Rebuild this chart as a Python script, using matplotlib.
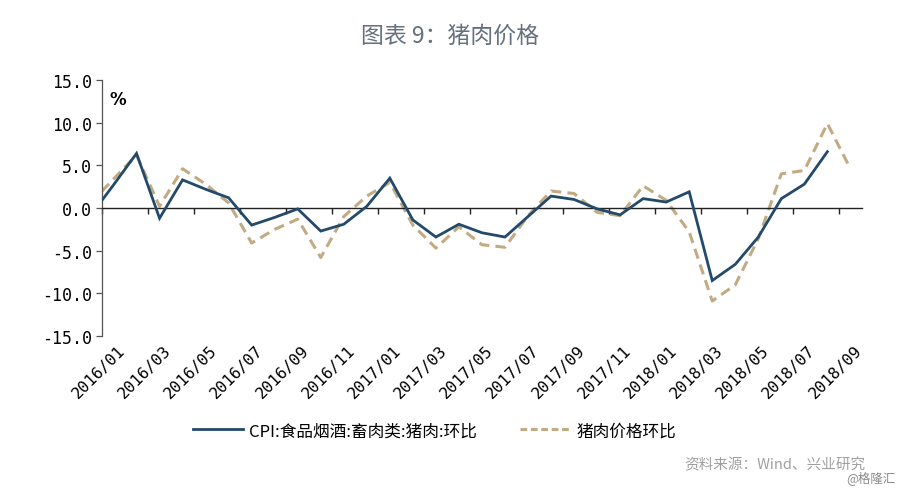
import numpy as np
import matplotlib
matplotlib.use('Agg')
import matplotlib.pyplot as plt
import matplotlib.transforms as mtransforms
from matplotlib.lines import Line2D

# monthly categories 2016/01 .. 2018/09
months = ['2016/01', '2016/02', '2016/03', '2016/04', '2016/05', '2016/06',
          '2016/07', '2016/08', '2016/09', '2016/10', '2016/11', '2016/12',
          '2017/01', '2017/02', '2017/03', '2017/04', '2017/05', '2017/06',
          '2017/07', '2017/08', '2017/09', '2017/10', '2017/11', '2017/12',
          '2018/01', '2018/02', '2018/03', '2018/04', '2018/05', '2018/06',
          '2018/07', '2018/08', '2018/09']

# CPI:食品烟酒:畜肉类:猪肉:环比 (%), no value yet for 2018/09
cpi_pork = [2.7, 6.4, -1.2, 3.3, 2.2, 1.2, -2.0, -1.1, -0.1, -2.7, -1.9, 0.2,
            3.5, -1.4, -3.4, -1.9, -2.9, -3.4, -1.0, 1.4, 1.0, -0.1, -0.8, 1.1,
            0.7, 1.9, -8.5, -6.6, -3.4, 1.1, 2.8, 6.6, np.nan]

# 猪肉价格环比 (%)
pork_price = [3.4, 6.2, 0.2, 4.6, 2.8, 0.6, -4.1, -2.5, -1.3, -5.8, -1.0, 1.4,
              3.0, -2.0, -4.7, -2.2, -4.3, -4.6, -0.9, 2.0, 1.7, -0.5, -0.9, 2.6,
              0.9, -2.8, -10.9, -9.0, -3.6, 4.0, 4.4, 9.9, 4.6]

# 2015/12 values, only the piece entering from the left edge is visible
prev_cpi = -0.9
prev_price = 0.55

blue = '#23496b'
tan = '#c2aa83'
cjk = ['Noto Sans CJK SC', 'DejaVu Sans']
num_font = 'DejaVu Sans Mono'

fig = plt.figure(figsize=(9, 4.89), dpi=100)
ax = fig.add_axes([0.1133, 0.3108, 0.8444, 0.5235])

x = np.arange(-1, len(months))
ax.plot(x, [prev_cpi] + cpi_pork, color=blue, lw=2.0, solid_joinstyle='miter', zorder=3)
ax.plot(x, [prev_price] + pork_price, color=tan, lw=2.2, dashes=(3.4, 2.0), zorder=2)

ax.set_xlim(-0.5, len(months) - 0.5)
ax.set_ylim(-15, 15)
yt = np.arange(-15, 15.1, 5)
ax.set_yticks(yt)
ax.set_yticklabels(['%.1f' % v for v in yt], fontfamily=num_font, fontsize=12)

for s in ['top', 'right']:
    ax.spines[s].set_visible(False)
ax.spines['left'].set_color('#555555')
ax.spines['left'].set_linewidth(0.9)
ax.spines['bottom'].set_position(('data', 0))
ax.spines['bottom'].set_color('#222222')
ax.spines['bottom'].set_linewidth(1.0)

ax.set_xticks(np.arange(-0.5, len(months) - 1, 2))
ax.tick_params(axis='x', direction='out', length=4, width=1.0, color='#222222',
               labelbottom=False)
ax.tick_params(axis='y', direction='out', length=4, width=0.9, color='#555555',
               pad=3)

# category labels at the bottom of the plot area, every second month
trans = mtransforms.blended_transform_factory(ax.transData, ax.transAxes)
for i in range(0, len(months), 2):
    ax.text(i + 0.15, -0.025, months[i], transform=trans, rotation=45,
            rotation_mode='anchor', ha='right', va='top',
            fontfamily=num_font, fontsize=11.5)

ax.text(0.01, 0.96, '%', transform=ax.transAxes, fontsize=12,
        fontweight='bold', ha='left', va='top')

fig.text(0.5, 0.925, '图表 9：猪肉价格', ha='center', va='center',
         fontsize=16.5, color='#66717f', family=cjk)

handles = [Line2D([], [], color=blue, lw=2.0),
           Line2D([], [], color=tan, lw=2.2, dashes=(2.2, 1.2))]
fig.legend(handles, ['CPI:食品烟酒:畜肉类:猪肉:环比', '猪肉价格环比'],
           loc='center', bbox_to_anchor=(0.483, 0.117), ncol=2, frameon=False,
           handlelength=3.0, columnspacing=2.6, handletextpad=0.35,
           prop={'family': cjk, 'size': 12})

fig.text(0.962, 0.048, '资料来源：Wind、兴业研究', ha='right', va='center',
         fontsize=10.5, color='#a0a0a0', family=cjk)
fig.text(0.995, 0.022, '@格隆汇', ha='right', va='center',
         fontsize=9, color='#8a8a8a', family=cjk)

fig.savefig('out.png', dpi=100)
